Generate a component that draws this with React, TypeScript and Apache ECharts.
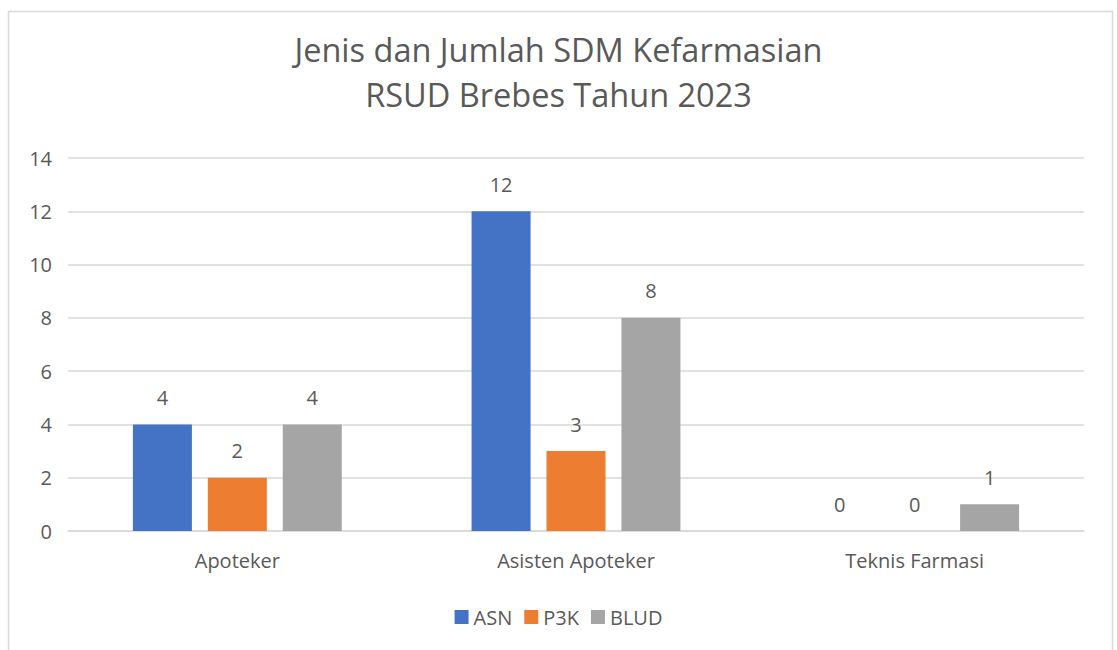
import React, { useEffect, useRef } from "react";
import * as echarts from "echarts";

const categories = ["Apoteker", "Asisten Apoteker", "Teknis Farmasi"];
const asn = [4, 12, 0];
const p3k = [2, 3, 0];
const blud = [4, 8, 1];
const seriesNames = ["ASN", "P3K", "BLUD"];
const colors = ["#4472C4", "#ED7D31", "#A5A5A5"];
const titleLines = ["Jenis dan Jumlah SDM Kefarmasian", "RSUD Brebes Tahun 2023"];

const FONT = "'Open Sans', 'Noto Sans', sans-serif";
const TXT = "#595959";

export default function App() {
  const ref = useRef<HTMLDivElement>(null);
  useEffect(() => {
    if (!ref.current) return;
    const chart = echarts.init(ref.current, undefined, { renderer: "svg" });
    const mk = (name: string, data: number[], color: string) => ({
      name,
      type: "bar",
      data,
      barWidth: 59,
      barGap: "27%",
      itemStyle: { color },
      label: {
        show: true,
        position: "top",
        distance: 17,
        color: TXT,
        fontSize: 20,
        fontFamily: FONT,
      },
    });
    chart.setOption({
      animation: false,
      backgroundColor: "#ffffff",
      textStyle: { fontFamily: FONT },
      graphic: [
        {
          type: "rect",
          shape: { x: 8.5, y: 11.5, width: 1104, height: 700 },
          style: { fill: "none", stroke: "#d9d9d9", lineWidth: 1.5 },
          silent: true,
        },
        ...titleLines.map((t, i) => ({
          type: "text",
          left: "center",
          top: 33 + i * 45,
          style: {
            text: t,
            fill: TXT,
            font: `32.5px ${FONT}`,
          },
        })),
      ],
      legend: {
        data: seriesNames,
        bottom: 18,
        left: "center",
        icon: "rect",
        itemWidth: 14,
        itemHeight: 14,
        itemGap: 12,
        textStyle: { color: TXT, fontSize: 20, fontFamily: FONT },
      },
      grid: { left: 68, right: 33, top: 158, bottom: 119, containLabel: false },
      xAxis: {
        type: "category",
        data: categories,
        axisLine: { show: true, lineStyle: { color: "#d9d9d9", width: 1.5 } },
        axisTick: { show: false },
        axisLabel: { color: TXT, fontSize: 20, fontFamily: FONT, margin: 19 },
      },
      yAxis: {
        type: "value",
        min: 0,
        max: 14,
        interval: 2,
        axisLine: { show: false },
        axisTick: { show: false },
        axisLabel: { color: TXT, fontSize: 20, fontFamily: FONT, margin: 16 },
        splitLine: { lineStyle: { color: "#d9d9d9", width: 1.5 } },
      },
      series: [
        mk(seriesNames[0], asn, colors[0]),
        mk(seriesNames[1], p3k, colors[1]),
        mk(seriesNames[2], blud, colors[2]),
      ],
    });
    return () => chart.dispose();
  }, []);
  return (
    <div
      ref={ref}
      style={{ position: "fixed", left: 0, top: 0, width: 1117, height: 650, background: "#fff" }}
    />
  );
}
